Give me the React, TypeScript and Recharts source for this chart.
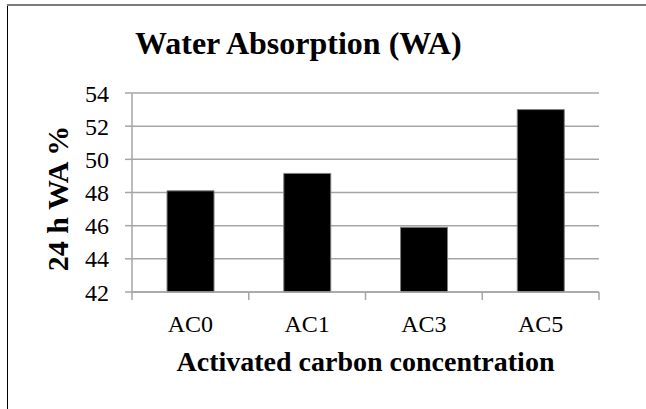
import React from 'react';
import { BarChart, Bar, XAxis, YAxis, CartesianGrid, Label } from 'recharts';

const categories = ['AC0', 'AC1', 'AC3', 'AC5'];
const waValues = [48.1, 49.15, 45.9, 53.0];
const yTicks = [42, 44, 46, 48, 50, 52, 54];

const data = categories.map((name, i) => ({ name, wa: waValues[i] }));

const W = 646;
const H = 409;
const SERIF = { fontFamily: '"Liberation Serif", "Times New Roman", serif' };
const GRID = '#a6a6a6';
const Y_AXIS_W = 132;
const MARGIN = { top: 93, right: 47, left: 0, bottom: 0 };
const PLOT_BOTTOM = 292;
// half of one category band, used to put x ticks on the band edges
const HALF_BAND = (W - Y_AXIS_W - MARGIN.right) / categories.length / 2;

const XTick = (props: any) => {
  const { x, y, payload, index } = props;
  return (
    <g>
      <line x1={x - HALF_BAND} x2={x - HALF_BAND} y1={y} y2={y + 8} stroke={GRID} strokeWidth={1.5} />
      {index === categories.length - 1 && (
        <line x1={x + HALF_BAND} x2={x + HALF_BAND} y1={y} y2={y + 8} stroke={GRID} strokeWidth={1.5} />
      )}
      <text x={x} y={y + 40} textAnchor="middle" fontSize={24} style={SERIF} fill="#000">
        {payload.value}
      </text>
    </g>
  );
};

const YTick = (props: any) => {
  const { x, y, payload } = props;
  return (
    <text x={x} y={y} dy="0.355em" textAnchor="end" fontSize={24} style={SERIF} fill="#000">
      {payload.value}
    </text>
  );
};

export default function App() {
  return (
    <div style={{ position: 'absolute', left: 0, top: 0, width: W, height: H, overflow: 'hidden', background: '#fff' }}>
      {/* chart frame, only left and top edges are in view */}
      <div style={{ position: 'absolute', left: 7, top: 4, width: 1, height: H - 4, background: '#000' }} />
      <div style={{ position: 'absolute', left: 7, top: 4, width: W - 7, height: 2, background: '#7a7a7a' }} />

      <BarChart width={W} height={H} data={data} margin={MARGIN} barCategoryGap="30%">
        <CartesianGrid vertical={false} stroke={GRID} strokeWidth={1.5} />
        <XAxis
          dataKey="name"
          height={H - PLOT_BOTTOM}
          axisLine={{ stroke: GRID, strokeWidth: 1.5 }}
          tickLine={false}
          tickSize={0}
          tickMargin={0}
          tick={<XTick />}
          interval={0}
        >
          <Label
            content={(p: any) => {
              const vb = p.viewBox;
              return (
                <text
                  x={vb.x + vb.width / 2}
                  y={vb.y + 79}
                  textAnchor="middle"
                  fontSize={28}
                  fontWeight="bold"
                  style={SERIF}
                  fill="#000"
                >
                  Activated carbon concentration
                </text>
              );
            }}
          />
        </XAxis>
        <YAxis
          width={Y_AXIS_W}
          domain={[42, 54]}
          ticks={yTicks}
          interval={0}
          axisLine={{ stroke: GRID, strokeWidth: 1.5 }}
          tickLine={{ stroke: GRID, strokeWidth: 1.5 }}
          tickSize={7}
          tickMargin={16}
          tick={<YTick />}
        >
          <Label
            content={(p: any) => {
              const vb = p.viewBox;
              const cy = vb.y + vb.height / 2 + 6;
              return (
                <text
                  transform={`translate(${vb.x + 57}, ${cy}) rotate(-90)`}
                  textAnchor="middle"
                  dominantBaseline="central"
                  fontSize={30}
                  fontWeight="bold"
                  style={SERIF}
                  fill="#000"
                >
                  24 h WA %
                </text>
              );
            }}
          />
        </YAxis>
        <Bar dataKey="wa" fill="#000" stroke="#7f7f7f" strokeWidth={1} isAnimationActive={false} />
      </BarChart>

      <svg width={W} height={H} style={{ position: 'absolute', left: 0, top: 0, pointerEvents: 'none' }}>
        <text x={135} y={54} fontSize={32} fontWeight="bold" style={SERIF} fill="#000">
          Water Absorption (WA)
        </text>
      </svg>
    </div>
  );
}
